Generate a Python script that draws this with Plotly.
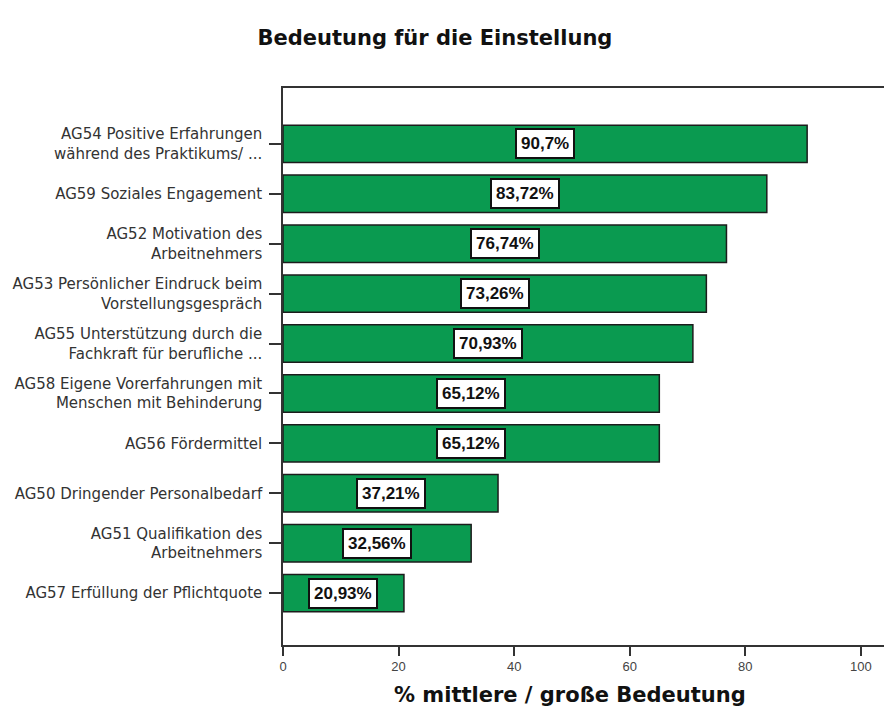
import plotly.graph_objects as go

categories = [
    "AG54 Positive Erfahrungen<br>während des Praktikums/ ...",
    "AG59 Soziales Engagement",
    "AG52 Motivation des<br>Arbeitnehmers",
    "AG53 Persönlicher Eindruck beim<br>Vorstellungsgespräch",
    "AG55 Unterstützung durch die<br>Fachkraft für berufliche ...",
    "AG58 Eigene Vorerfahrungen mit<br>Menschen mit Behinderung",
    "AG56 Fördermittel",
    "AG50 Dringender Personalbedarf",
    "AG51 Qualifikation des<br>Arbeitnehmers",
    "AG57 Erfüllung der Pflichtquote",
]
values = [90.7, 83.72, 76.74, 73.26, 70.93, 65.12, 65.12, 37.21, 32.56, 20.93]
labels = ["90,7%", "83,72%", "76,74%", "73,26%", "70,93%",
          "65,12%", "65,12%", "37,21%", "32,56%", "20,93%"]
x_ticks = [0, 20, 40, 60, 80, 100]

GREEN = "#0a9a50"

fig = go.Figure()
fig.add_trace(go.Bar(
    x=values,
    y=categories,
    orientation="h",
    width=0.75,
    marker=dict(color=GREEN, line=dict(color="#1c1c1c", width=1.5)),
    hoverinfo="skip",
))

# value boxes, centred in each bar
for cat, val, lab in zip(categories, values, labels):
    fig.add_annotation(
        x=val / 2, y=cat, text="<b>" + lab + "</b>",
        showarrow=False,
        font=dict(family="Liberation Sans", size=17, color="#111"),
        bgcolor="white", bordercolor="#111", borderwidth=2, borderpad=4,
    )

# axis title as annotation so it can sit left of the plot centre like the original
fig.add_annotation(
    x=0.4775, y=-0.0898, xref="paper", yref="paper",
    text="<b>% mittlere / große Bedeutung</b>",
    showarrow=False, xanchor="center", yanchor="middle",
    font=dict(family="DejaVu Sans", size=21, color="#111"),
)

fig.update_layout(
    width=884,
    height=711,
    margin=dict(l=283, r=0, t=88, b=66),
    paper_bgcolor="white",
    plot_bgcolor="white",
    showlegend=False,
    title=dict(
        text="<b>Bedeutung für die Einstellung</b>",
        x=0.492, xanchor="center", y=0.9466, yanchor="middle",
        font=dict(family="DejaVu Sans", size=21, color="#111"),
    ),
    xaxis=dict(
        range=[0, 104],
        tickvals=x_ticks,
        ticks="outside", ticklen=9, tickcolor="#333", tickwidth=1.5,
        showgrid=False, zeroline=False,
        showline=True, linecolor="#333", linewidth=1.5, mirror=True,
        tickfont=dict(family="Liberation Sans", size=13, color="#444"),
    ),
    yaxis=dict(
        autorange=False,
        range=[10.04, -1.12],
        ticks="outside", ticklen=12, tickcolor="#333", tickwidth=1.5,
        ticklabelstandoff=4,
        showgrid=False, zeroline=False,
        showline=True, linecolor="#333", linewidth=1.5,
        tickfont=dict(family="DejaVu Sans", size=15, color="#333"),
    ),
)

# drop the default body margin so the figure fills the window exactly
fig.write_html(
    "out.html",
    config={"displayModeBar": False},
    post_script="document.body.style.margin='0';document.body.style.overflow='hidden';",
)
